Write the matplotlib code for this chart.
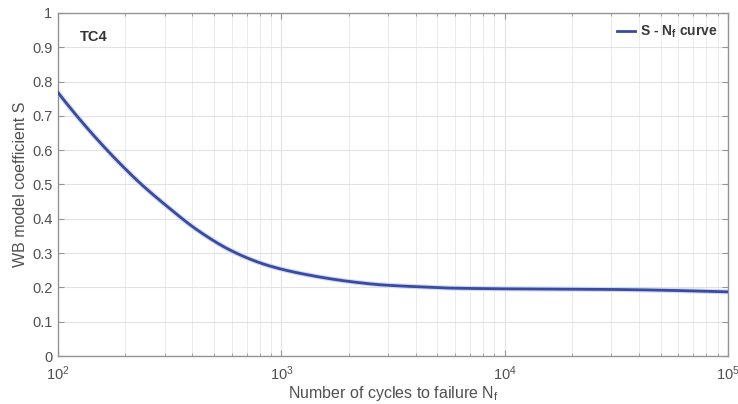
import numpy as np
import matplotlib.pyplot as plt
from matplotlib.ticker import LogLocator, NullFormatter, MultipleLocator

# --- data ---
cycles = [100, 217, 307, 432, 610, 861, 1213, 2030, 2863, 4040, 5690,
          9550, 30800, 100000]
coef_s = [0.768, 0.523, 0.437, 0.362, 0.304, 0.265, 0.241, 0.217,
          0.207, 0.202, 0.198, 0.196, 0.194, 0.187]

x_limits = (1e2, 1e5)
y_limits = (0, 1)
panel_label = 'TC4'
series_label = r'S - N$_\mathregular{f}$ curve'


def end_slope(h0, h1, d0, d1):
    m = ((2 * h0 + h1) * d0 - h0 * d1) / (h0 + h1)
    if np.sign(m) != np.sign(d0):
        return 0.0
    if np.sign(d0) != np.sign(d1) and abs(m) > abs(3 * d0):
        return 3 * d0
    return m


def pchip(xk, yk, xq):
    # monotone cubic hermite (Fritsch-Carlson), numpy only
    xk = np.asarray(xk, float)
    yk = np.asarray(yk, float)
    h = np.diff(xk)
    d = np.diff(yk) / h
    m = np.zeros_like(yk)
    for i in range(1, len(yk) - 1):
        if d[i - 1] * d[i] > 0:
            w1 = 2 * h[i] + h[i - 1]
            w2 = h[i] + 2 * h[i - 1]
            m[i] = (w1 + w2) / (w1 / d[i - 1] + w2 / d[i])
    m[0] = end_slope(h[0], h[1], d[0], d[1])
    m[-1] = end_slope(h[-1], h[-2], d[-1], d[-2])
    idx = np.clip(np.searchsorted(xk, xq) - 1, 0, len(h) - 1)
    t = (xq - xk[idx]) / h[idx]
    h00 = 2 * t**3 - 3 * t**2 + 1
    h10 = t**3 - 2 * t**2 + t
    h01 = -2 * t**3 + 3 * t**2
    h11 = t**3 - t**2
    return (h00 * yk[idx] + h10 * h[idx] * m[idx]
            + h01 * yk[idx + 1] + h11 * h[idx] * m[idx + 1])


plt.rcParams['font.family'] = ['Liberation Sans', 'DejaVu Sans']
plt.rcParams['mathtext.fontset'] = 'custom'
plt.rcParams['mathtext.rm'] = 'Liberation Sans'
plt.rcParams['mathtext.it'] = 'Liberation Sans'
plt.rcParams['mathtext.bf'] = 'Liberation Sans:bold'

text_col = '#505050'
spine_col = '#959595'

fig = plt.figure(figsize=(7.38, 4.04), dpi=100)
ax = fig.add_axes([58 / 738, 48 / 404, 670 / 738, 343 / 404])

lx = np.log10(cycles)
xs = np.linspace(lx[0], lx[-1], 500)
ys = pchip(lx, coef_s, xs)
ax.plot(10 ** xs, ys, color='#cdd8f7', linewidth=3.6, solid_capstyle='butt', zorder=2)
ax.plot(10 ** xs, ys, color='#3a4b9e', linewidth=2.0, label=series_label, zorder=3)

ax.set_xscale('log')
ax.set_xlim(*x_limits)
ax.set_ylim(*y_limits)
ax.yaxis.set_major_locator(MultipleLocator(0.1))
ax.yaxis.set_major_formatter(plt.FuncFormatter(lambda v, p: f'{v:g}'))
ax.xaxis.set_major_locator(LogLocator(base=10))
ax.xaxis.set_minor_locator(LogLocator(base=10, subs=np.arange(2, 10)))
ax.xaxis.set_minor_formatter(NullFormatter())

ax.grid(True, which='major', color='#e2e2e2', linewidth=0.8)
ax.grid(True, which='minor', axis='x', color='#ebebeb', linewidth=0.7)
ax.set_axisbelow(True)

ax.tick_params(which='both', direction='in', top=True, right=True,
               colors=spine_col, labelcolor=text_col, labelsize=10.5)
ax.tick_params(which='major', length=4)
ax.tick_params(which='minor', length=2.5)
ax.tick_params(axis='x', which='major', pad=6)
ax.tick_params(axis='y', which='major', pad=4)
for sp in ax.spines.values():
    sp.set_color(spine_col)
    sp.set_linewidth(1.0)

ax.set_xlabel(r'Number of cycles to failure N$_\mathregular{f}$', fontsize=11.5,
              color=text_col, labelpad=1)
ax.set_ylabel('WB model coefficient S', fontsize=11.5, color=text_col, labelpad=3)

ax.text(0.033, 0.95, panel_label, transform=ax.transAxes, fontsize=10.5,
        fontweight='bold', color='#333333', va='top')

leg = ax.legend(loc='upper right', frameon=False, fontsize=10, handlelength=1.3,
                handletextpad=0.35, borderaxespad=0.35)
for t in leg.get_texts():
    t.set_color('#3a3a3a')
    t.set_fontweight('bold')

fig.savefig('out.png', dpi=100)
